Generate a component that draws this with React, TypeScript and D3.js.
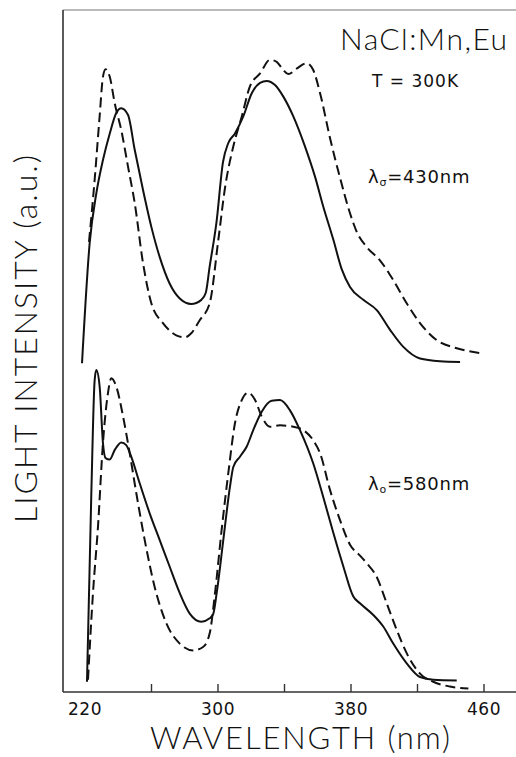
import React, { useEffect, useRef } from "react";
import * as d3 from "d3";

// wavelength (nm) / intensity (a.u.).
// the upper pair (lambda_em = 430 nm) is already shifted up on the shared a.u. scale
const topSolidX = [218.2, 222.8, 226.8, 230.8, 234.9, 238.8, 241.8, 245.9, 249.9, 254.9, 259.9, 264.9, 270.9, 277.0, 283.9, 290.0, 292.6, 295.0, 299.0, 303.0, 306.2, 310.2, 315.2, 320.3, 325.3, 329.3, 334.3, 339.3, 345.3, 352.3, 358.3, 363.3, 369.4, 374.4, 379.4, 387.4, 395.5, 403.5, 411.5, 421.5, 433.5, 445.6];
const topSolidY = [48.2, 65.8, 73.1, 78.0, 81.9, 84.9, 85.6, 84.6, 79.5, 73.6, 68.2, 63.8, 59.9, 57.7, 56.9, 57.5, 58.5, 62.4, 68.7, 77.7, 80.5, 81.9, 84.4, 87.8, 89.3, 89.6, 89.0, 87.3, 84.4, 80.0, 75.6, 71.2, 66.3, 62.0, 59.4, 57.5, 56.0, 53.1, 50.6, 48.9, 48.5, 48.4];

const topDashX = [222.4, 225.8, 228.8, 230.8, 232.4, 234.9, 237.9, 241.8, 245.9, 249.9, 254.9, 259.9, 266.9, 274.9, 280.0, 283.9, 289.0, 295.0, 300.2, 304.2, 309.2, 314.3, 319.2, 325.3, 331.3, 335.3, 339.3, 342.3, 347.3, 353.4, 357.3, 361.4, 367.4, 373.4, 379.4, 383.6, 389.6, 397.4, 405.4, 413.5, 421.5, 431.5, 443.6, 457.6];
const topDashY = [66.0, 75.1, 84.4, 90.2, 91.3, 90.2, 86.3, 82.4, 77.0, 71.7, 62.9, 57.0, 54.1, 52.3, 52.0, 52.6, 54.5, 57.0, 66.3, 73.9, 80.0, 84.4, 88.8, 90.7, 92.7, 92.4, 91.2, 90.6, 91.4, 92.2, 91.2, 87.8, 81.2, 75.4, 70.2, 67.4, 65.2, 63.3, 60.4, 57.0, 54.1, 51.6, 50.4, 49.7];

// lower pair (lambda_em = 580 nm)
const botSolidX = [221.2, 223.8, 225.8, 226.8, 228.8, 230.8, 232.4, 234.9, 237.9, 241.8, 244.8, 247.8, 252.9, 258.9, 264.9, 270.9, 277.0, 283.0, 290.0, 295.0, 297.2, 299.2, 303.2, 307.2, 309.2, 313.2, 317.3, 321.2, 326.3, 332.3, 337.3, 343.3, 349.3, 357.3, 363.3, 369.4, 375.4, 381.4, 385.4, 393.4, 399.4, 405.4, 413.5, 421.5, 429.5, 443.6];
const botSolidY = [1.5, 29.1, 45.7, 47.2, 44.8, 36.5, 34.3, 34.1, 35.5, 36.6, 36.2, 34.5, 30.6, 26.2, 22.3, 18.4, 14.5, 11.5, 10.3, 10.8, 11.5, 14.5, 22.3, 30.1, 33.0, 34.5, 36.0, 38.4, 41.1, 42.7, 42.8, 41.3, 38.4, 33.5, 28.6, 23.3, 18.4, 14.0, 13.0, 11.3, 9.6, 7.1, 4.2, 2.2, 1.8, 1.7];

const botDashX = [221.8, 224.8, 227.8, 230.8, 233.8, 235.8, 238.8, 242.9, 246.9, 250.9, 255.9, 261.9, 268.9, 277.0, 285.0, 291.0, 295.0, 298.2, 302.2, 306.2, 310.2, 314.3, 318.2, 322.3, 326.3, 331.3, 337.3, 345.3, 351.3, 357.3, 361.4, 367.4, 373.4, 379.4, 385.4, 389.4, 395.4, 401.5, 407.5, 413.5, 421.5, 429.5, 439.5, 450.6];
const botDashY = [1.8, 14.5, 24.2, 36.5, 43.8, 46.0, 44.8, 40.4, 35.0, 29.1, 22.3, 15.4, 10.1, 7.1, 6.1, 6.6, 8.6, 14.5, 23.8, 32.1, 39.4, 42.8, 43.9, 42.8, 40.4, 38.9, 39.1, 38.9, 38.4, 36.9, 35.0, 29.6, 25.2, 21.6, 20.0, 18.9, 16.9, 13.0, 9.1, 5.7, 2.7, 1.5, 0.8, 0.5];

const tickValues = [260, 300, 340, 380, 420, 460];
const tickLabels = [220, 300, 380, 460];

const App = () => {
  const ref = useRef<SVGSVGElement>(null);

  useEffect(() => {
    const width = 516;
    const height = 757;
    const left = 63, top = 10, bottom = 692;
    const thin = "Lato, 'DejaVu Sans', sans-serif";
    const small = "'DejaVu Sans', sans-serif";

    const svg = d3.select(ref.current);
    svg.selectAll("*").remove();

    const x = d3.scaleLinear().domain([220, 460]).range([85, 484]);
    const y = d3.scaleLinear().domain([0, 100]).range([bottom, top]);

    // frame
    svg.append("line")
      .attr("x1", left).attr("x2", width).attr("y1", top).attr("y2", top)
      .attr("stroke", "#777").attr("stroke-width", 1.2);
    svg.append("line")
      .attr("x1", left).attr("x2", left).attr("y1", top).attr("y2", bottom)
      .attr("stroke", "#333").attr("stroke-width", 1.6);

    // bottom axis: ticks point up into the plot
    const axis = svg.append("g").attr("transform", `translate(0,${bottom})`);
    axis.append("line")
      .attr("x1", left).attr("x2", width).attr("y1", 0).attr("y2", 0)
      .attr("stroke", "#333").attr("stroke-width", 1.6);
    axis.selectAll("line.tick")
      .data(tickValues)
      .enter().append("line")
      .attr("class", "tick")
      .attr("x1", d => x(d)).attr("x2", d => x(d))
      .attr("y1", 0).attr("y2", -8)
      .attr("stroke", "#333").attr("stroke-width", 1.4);
    axis.selectAll("text")
      .data(tickLabels)
      .enter().append("text")
      .attr("x", d => x(d))
      .attr("y", 23)
      .attr("text-anchor", "middle")
      .attr("font-family", small)
      .attr("font-size", 17)
      .attr("letter-spacing", 0.5)
      .attr("fill", "#111")
      .text(d => d);

    const series = [
      { xs: topSolidX, ys: topSolidY, dash: null },
      { xs: topDashX, ys: topDashY, dash: "10,5" },
      { xs: botSolidX, ys: botSolidY, dash: null },
      { xs: botDashX, ys: botDashY, dash: "10,5" },
    ];

    const line = d3.line<[number, number]>()
      .x(d => x(d[0]))
      .y(d => y(d[1]))
      .curve(d3.curveMonotoneX);

    series.forEach(s => {
      const pts = s.xs.map((v, i) => [v, s.ys[i]] as [number, number]);
      svg.append("path")
        .attr("d", line(pts))
        .attr("fill", "none")
        .attr("stroke", "#111")
        .attr("stroke-width", 2)
        .attr("stroke-dasharray", s.dash)
        .attr("stroke-linejoin", "round");
    });

    // axis titles
    svg.append("text")
      .attr("x", 300).attr("y", 749)
      .attr("text-anchor", "middle")
      .attr("font-family", thin)
      .attr("font-weight", 300)
      .attr("font-size", 31)
      .attr("textLength", 300)
      .attr("lengthAdjust", "spacing")
      .attr("fill", "#111")
      .text("WAVELENGTH (nm)");

    svg.append("text")
      .attr("transform", "translate(37,339) rotate(-90)")
      .attr("text-anchor", "middle")
      .attr("font-family", thin)
      .attr("font-weight", 300)
      .attr("font-size", 32)
      .attr("textLength", 368)
      .attr("lengthAdjust", "spacing")
      .attr("fill", "#111")
      .text("LIGHT INTENSITY (a.u.)");

    // annotations
    svg.append("text")
      .attr("x", 340).attr("y", 50)
      .attr("font-family", thin)
      .attr("font-weight", 300)
      .attr("font-size", 30)
      .attr("textLength", 167)
      .attr("lengthAdjust", "spacing")
      .attr("fill", "#111")
      .text("NaCl:Mn,Eu");

    svg.append("text")
      .attr("x", 372).attr("y", 87)
      .attr("font-family", small)
      .attr("font-size", 17)
      .attr("letter-spacing", 1)
      .attr("fill", "#111")
      .text("T = 300K");

    const lam = (yy: number, sub: string, rest: string) => {
      const t = svg.append("text")
        .attr("x", 368).attr("y", yy)
        .attr("font-family", small)
        .attr("font-size", 18)
        .attr("letter-spacing", 0.8)
        .attr("fill", "#111");
      t.append("tspan").text("λ");
      t.append("tspan").attr("font-size", 11).attr("dy", 3).text(sub);
      t.append("tspan").attr("dy", -3).text(rest);
    };
    lam(183, "σ", "=430nm");
    lam(490, "o", "=580nm");
  }, []);

  return (
    <svg
      ref={ref}
      width={516}
      height={757}
      style={{ position: "absolute", left: 0, top: 0, background: "#fff" }}
    ></svg>
  );
};

export default App;
